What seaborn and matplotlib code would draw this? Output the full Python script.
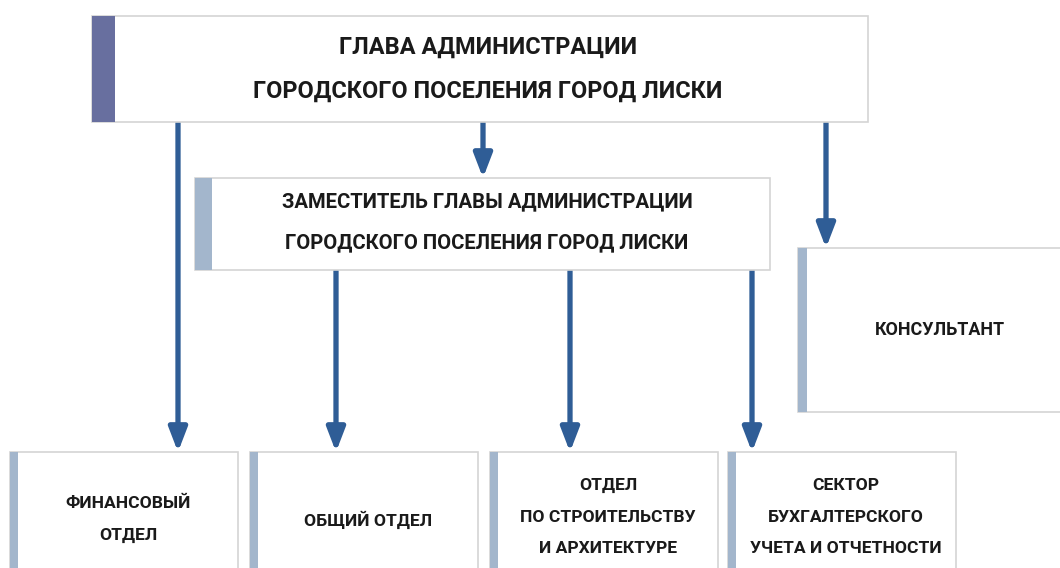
import matplotlib
matplotlib.use('Agg')
import matplotlib.pyplot as plt
import seaborn as sns
from matplotlib.patches import Rectangle

sns.set_theme(style='white')
plt.rcParams['font.family'] = ['Roboto', 'DejaVu Sans']

# тексти блоків
head_text = 'ГЛАВА АДМИНИСТРАЦИИ\n\nГОРОДСКОГО ПОСЕЛЕНИЯ ГОРОД ЛИСКИ'
deputy_text = 'ЗАМЕСТИТЕЛЬ ГЛАВЫ АДМИНИСТРАЦИИ\n\nГОРОДСКОГО ПОСЕЛЕНИЯ ГОРОД ЛИСКИ'
consult_text = 'КОНСУЛЬТАНТ'
dept_texts = ['ФИНАНСОВЫЙ\n\nОТДЕЛ',
              'ОБЩИЙ ОТДЕЛ',
              'ОТДЕЛ\n\nПО СТРОИТЕЛЬСТВУ\n\nИ АРХИТЕКТУРЕ',
              'СЕКТОР\n\nБУХГАЛТЕРСКОГО\n\nУЧЕТА И ОТЧЕТНОСТИ']

# геометрія (пікселі): x0, y0, ширина, висота, ширина смуги
head_box = (92, 16, 776, 106, 23)
deputy_box = (195, 178, 575, 92, 17)
consult_box = (798, 248, 270, 164, 9)
dept_x = [10, 250, 490, 728]
dept_y, dept_w, dept_h = 452, 228, 130

arrow_color = '#2f5d96'
bar_dark = '#686f9f'
bar_light = '#a3b6cc'

fig = plt.figure(figsize=(10.6, 5.68), dpi=100)
ax = fig.add_axes([0, 0, 1, 1])
ax.set_xlim(0, 1060)
ax.set_ylim(568, 0)
ax.axis('off')


def box(b, bar_color, text, size, text_cx=None, cy=None, ls=1.0):
    x, y, w, h, bw = b
    ax.add_patch(Rectangle((x, y), w, h, facecolor='white', edgecolor='#d4d4d4', lw=1.2, zorder=2))
    ax.add_patch(Rectangle((x, y), bw, h, facecolor=bar_color, edgecolor='none', zorder=3))
    cx = text_cx if text_cx is not None else x + bw + (w - bw) / 2
    cy = cy if cy is not None else y + h / 2
    ax.text(cx, cy, text, ha='center', va='center', fontsize=size,
            fontweight='bold', color='#1a1a1a', linespacing=ls, zorder=4)


def arrow(x, y0, y1):
    ax.annotate('', xy=(x, y1), xytext=(x, y0),
                arrowprops=dict(arrowstyle='-|>,head_length=0.65,head_width=0.25',
                                lw=3.8, color=arrow_color,
                                mutation_scale=22, shrinkA=0, shrinkB=0),
                zorder=1)


box(head_box, bar_dark, head_text, 16.9, text_cx=488, cy=69, ls=0.95)
box(deputy_box, bar_light, deputy_text, 14.6, text_cx=487, cy=222, ls=1.1)
box(consult_box, bar_light, consult_text, 12.9, text_cx=940)
dept_cy = [519, 520, 517, 517]
for x, t, c in zip(dept_x, dept_texts, dept_cy):
    box((x, dept_y, dept_w, dept_h, 8), bar_light, t, 12.6, cy=c, ls=1.08)

arrow(178, 122, 452)
arrow(483, 122, 178)
arrow(826, 122, 248)
arrow(336, 270, 452)
arrow(570, 270, 452)
arrow(752, 270, 452)

fig.savefig('out.png', dpi=100)
